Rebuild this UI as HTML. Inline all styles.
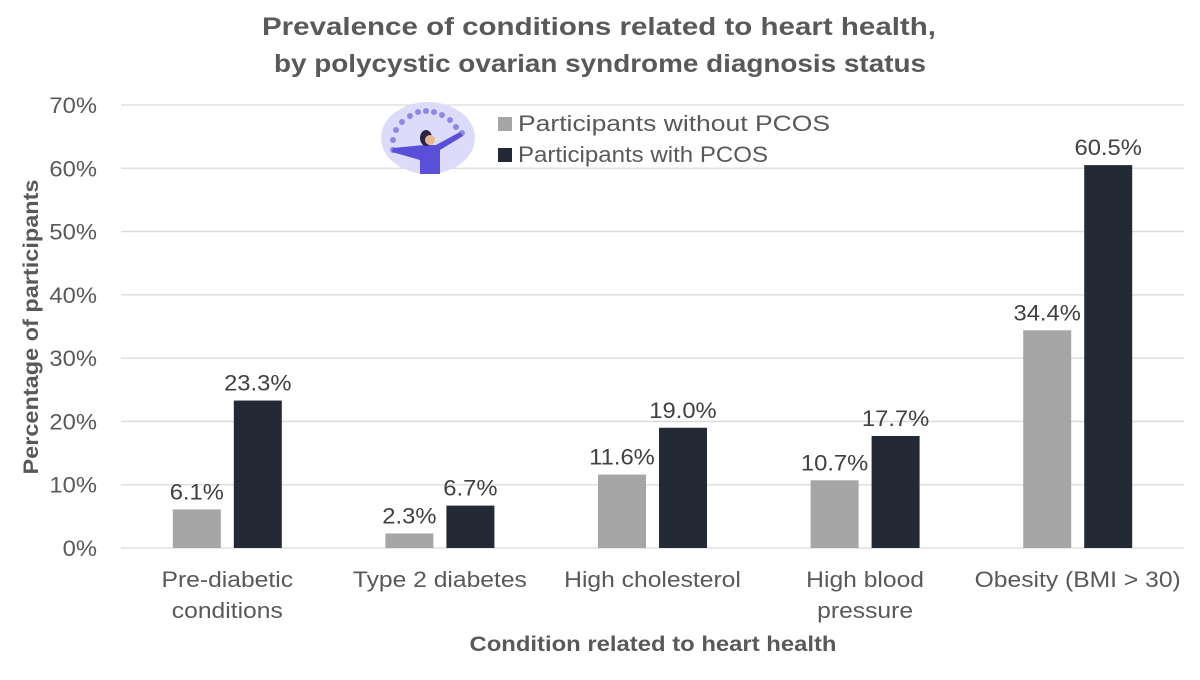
<!DOCTYPE html>
<html><head><meta charset="utf-8"><style>
body{margin:0;background:#fff;}
svg text{font-family:"Liberation Sans",sans-serif;}
</style></head><body>
<svg id="chart" width="1200" height="675" viewBox="0 0 1200 675" xmlns="http://www.w3.org/2000/svg">
<text x="599" y="35" text-anchor="middle" font-size="25" font-weight="bold" fill="#595959" textLength="674" lengthAdjust="spacingAndGlyphs">Prevalence of conditions related to heart health,</text>
<text x="600" y="72" text-anchor="middle" font-size="25" font-weight="bold" fill="#595959" textLength="652" lengthAdjust="spacingAndGlyphs">by polycystic ovarian syndrome diagnosis status</text>
<g id="grid"></g>
<g id="bars"></g>
<g id="xlabels"></g>
<text transform="translate(38,327) rotate(-90)" text-anchor="middle" font-size="21" font-weight="bold" fill="#595959" textLength="295" lengthAdjust="spacingAndGlyphs">Percentage of participants</text>
<text x="653" y="651" text-anchor="middle" font-size="21" font-weight="bold" fill="#595959" textLength="367" lengthAdjust="spacingAndGlyphs">Condition related to heart health</text>
<g>
<ellipse cx="428" cy="138" rx="47" ry="36" fill="#dcdcfa"/>
<g fill="#7b74e0" opacity="0.8">
<circle cx="393" cy="150" r="3"/><circle cx="393" cy="140" r="3"/><circle cx="396" cy="130" r="3"/><circle cx="402" cy="122" r="3"/><circle cx="410" cy="116" r="3"/><circle cx="418" cy="112" r="3"/><circle cx="426" cy="111" r="3"/><circle cx="434" cy="112" r="3"/><circle cx="442" cy="115" r="3"/><circle cx="450" cy="120" r="3"/><circle cx="456" cy="127" r="3"/><circle cx="462" cy="133" r="3"/>
</g>
<path d="M392 152 L420 160 L420 174 L440 174 L440 150 L463 136 L460 132 L436 145 L424 145 L393 148Z" fill="#5a4fd8"/>
<ellipse cx="426" cy="138" rx="6" ry="8" fill="#2a2440"/>
<circle cx="430" cy="140" r="5" fill="#e8b896"/>
</g>
<g>
<rect x="498" y="117" width="14" height="14" fill="#a6a6a6"/>
<text x="518" y="131" font-size="22" fill="#595959" textLength="312" lengthAdjust="spacingAndGlyphs">Participants without PCOS</text>
<rect x="498" y="148" width="14" height="14" fill="#232a35"/>
<text x="518" y="162" font-size="22" fill="#595959" textLength="250" lengthAdjust="spacingAndGlyphs">Participants with PCOS</text>
</g>
</svg>
<script>
const categories=[["Pre-diabetic","conditions"],["Type 2 diabetes"],["High cholesterol"],["High blood","pressure"],["Obesity (BMI > 30)"]];
const withoutPCOS=[6.1,2.3,11.6,10.7,34.4];
const withPCOS=[23.3,6.7,19.0,17.7,60.5];
const yTicks=[0,10,20,30,40,50,60,70];
const NS="http://www.w3.org/2000/svg";
const x0=121,x1=1184,yBase=548,yTop=105,yMax=70;
const y=v=>yBase-(v/yMax)*(yBase-yTop);
const band=(x1-x0)/categories.length;
const cx=i=>x0+band*(i+0.5);
function mk(tag,attrs,parent){const e=document.createElementNS(NS,tag);for(const k in attrs)e.setAttribute(k,attrs[k]);parent.appendChild(e);return e;}
function stretch(t,s){const w=t.getComputedTextLength();t.setAttribute('textLength',w*s);t.setAttribute('lengthAdjust','spacingAndGlyphs');}
const grid=document.getElementById('grid'),bars=document.getElementById('bars'),xl=document.getElementById('xlabels');
yTicks.forEach(t=>{
 const l=mk('line',{x1:x0,x2:x1,y1:y(t),y2:y(t),stroke:'#d9d9d9','stroke-width':1.3},grid);
 
 
 const tx=mk('text',{x:97,y:y(t)+8,'text-anchor':'end','font-size':22,fill:'#595959'},grid);
 tx.textContent=t+'%';
 
 
 stretch(tx,1.08);
});
const bw=48,gap=13;
categories.forEach((c,i)=>{
 [[withoutPCOS[i],'#a6a6a6',cx(i)-gap/2-bw,'without'],[withPCOS[i],'#232a35',cx(i)+gap/2,'with']].forEach(([v,col,bx,s])=>{
  const r=mk('rect',{x:bx,y:y(v),width:bw,height:yBase-y(v),fill:col},bars);
  
  
  const t=mk('text',{x:bx+bw/2,y:y(v)-10,'text-anchor':'middle','font-size':22,fill:'#404040'},bars);
  t.textContent=v.toFixed(1)+'%';
  
  
  stretch(t,1.08);
 });
 c.forEach((line,j)=>{
  const t=mk('text',{x:cx(i),y:587+j*31,'text-anchor':'middle','font-size':22,fill:'#595959'},xl);
  t.textContent=line;
  
  
  stretch(t,1.12);
 });
});
</script>
</body></html>
